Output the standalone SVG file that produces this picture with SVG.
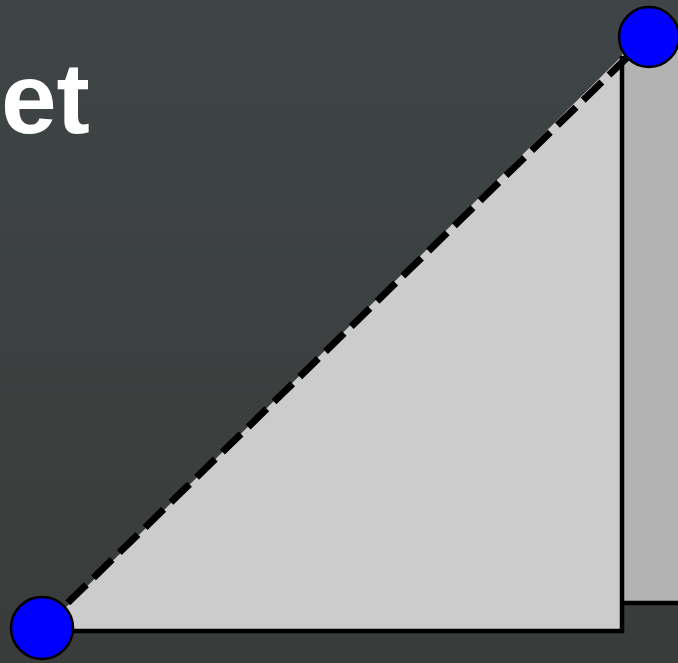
<svg xmlns="http://www.w3.org/2000/svg" width="678" height="663" viewBox="0 0 678 663">
<defs>
<linearGradient id="bg" x1="0" y1="0" x2="0" y2="1">
<stop offset="0" stop-color="#3f4446"/>
<stop offset="1" stop-color="#393c3a"/>
</linearGradient>
<style>
.edge{stroke:#000;stroke-width:4.5;fill:none}
.pt{fill:#0000ff;stroke:#000;stroke-width:2.5}
</style>
</defs>
<rect width="678" height="663" fill="url(#bg)"/>
<text x="1" y="133" font-family="'Liberation Sans', sans-serif" font-weight="bold" font-size="100" fill="#ffffff">et</text>
<g id="rect">
<rect x="622" y="40" width="60" height="563" fill="#b3b3b3"/>
<line class="edge" x1="622" y1="603" x2="680" y2="603"/>
</g>
<g id="triangle">
<polygon points="42,631 622,631 622,56" fill="#cccccc"/>
<polyline class="edge" points="42,631 622,631 622,56"/>
</g>
<g id="connectors">
<line x1="42" y1="628" x2="648" y2="37" stroke="#000" stroke-width="7" stroke-dasharray="26,10"/>
</g>
<g id="p1"><circle class="pt" cx="42" cy="628" r="31"/></g>
<g id="p2"><circle class="pt" cx="649" cy="37" r="30"/></g>
</svg>
